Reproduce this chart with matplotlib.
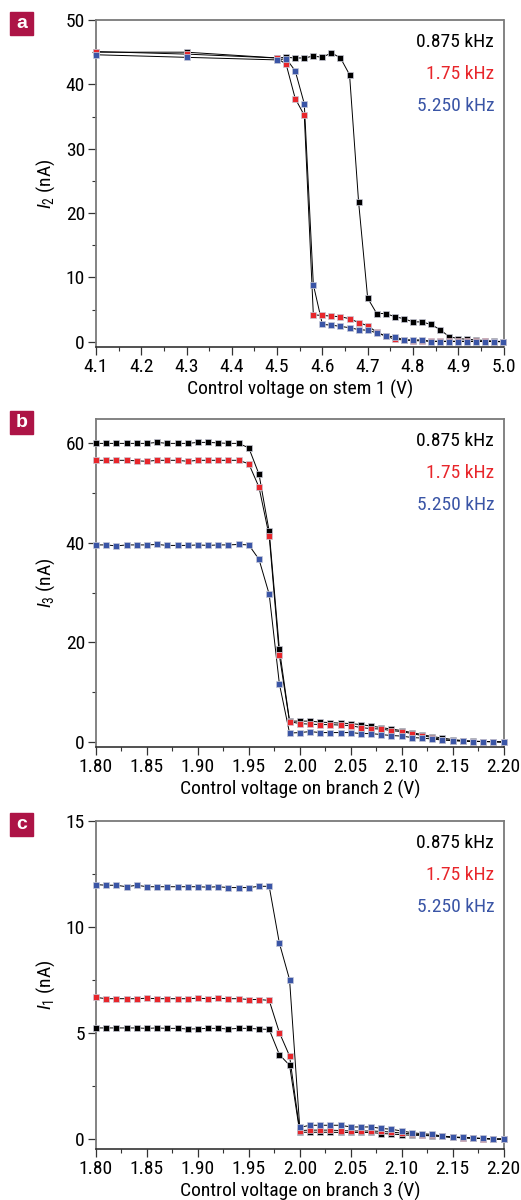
import matplotlib
matplotlib.use("Agg")
import matplotlib.pyplot as plt
from matplotlib import font_manager
from matplotlib.ticker import MultipleLocator, FormatStrFormatter
from matplotlib.patches import Rectangle

# pick a condensed sans if one is installed, else a narrow-ish sans
names = {f.name: f for f in font_manager.fontManager.ttflist}
cond = [f.name for f in font_manager.fontManager.ttflist
        if ("Narrow" in f.name or "Condensed" in f.name) and "Mono" not in f.name
        and "Serif" not in f.name]
pref = ["Liberation Sans Narrow", "DejaVu Sans Condensed", "Roboto Condensed",
        "Open Sans Condensed"]
FAM = None
for p in pref:
    if p in names:
        FAM = p
        break
if FAM is None and cond:
    FAM = sorted(cond)[0]
CONDENSED = FAM is not None
if FAM is None:
    for p in ["Liberation Sans", "Roboto", "Arial"]:
        if p in names:
            FAM = p
            break
if FAM is None:
    FAM = "DejaVu Sans"

plt.rcParams["font.family"] = [FAM, "DejaVu Sans"]
plt.rcParams["mathtext.fontset"] = "custom"
plt.rcParams["mathtext.rm"] = FAM
plt.rcParams["mathtext.it"] = FAM + ":italic"
FS = 14 if CONDENSED else 12.3

# ---------------- data ----------------
series_labels = ["0.875 kHz", "1.75 kHz", "5.250 kHz"]
series_colors = ["#000000", "#e8262b", "#3a55a6"]

# panel a
v_a = [4.10, 4.30, 4.50, 4.52, 4.54, 4.56, 4.58, 4.60, 4.62, 4.64, 4.66, 4.68, 4.70,
       4.72, 4.74, 4.76, 4.78, 4.80, 4.82, 4.84, 4.86, 4.88, 4.90, 4.92, 4.94, 4.96,
       4.98, 5.00]
i2_black = [45.0, 45.0, 44.1, 44.2, 44.1, 44.1, 44.4, 44.2, 44.9, 44.1, 41.5, 21.7, 6.8,
            4.4, 4.4, 3.9, 3.6, 3.1, 3.1, 2.7, 1.9, 0.8, 0.5, 0.4, 0.3, 0.2, 0.1, 0.05]
i2_red = [45.1, 44.7, 44.1, 43.1, 37.8, 35.2, 4.2, 4.1, 4.0, 3.9, 3.6, 3.0, 2.5,
          1.5, 0.9, 0.4, 0.3, 0.2, 0.15, 0.1, 0.1, 0.1, 0.1, 0.1, 0.1, 0.1, 0.05, 0.0]
i2_blue = [44.6, 44.2, 43.8, 44.0, 42.1, 37.0, 8.9, 2.7, 2.6, 2.4, 2.2, 1.9, 1.8,
           1.4, 0.9, 0.8, 0.3, 0.3, 0.3, 0.05, 0.05, 0.05, 0.05, 0.05, 0.05, 0.05, 0.05, 0.05]

# panels b and c share the same voltage grid
v_bc = [1.80, 1.81, 1.82, 1.83, 1.84, 1.85, 1.86, 1.87, 1.88, 1.89, 1.90, 1.91, 1.92,
        1.93, 1.94, 1.95, 1.96, 1.97, 1.98, 1.99, 2.00, 2.01, 2.02, 2.03, 2.04, 2.05,
        2.06, 2.07, 2.08, 2.09, 2.10, 2.11, 2.12, 2.13, 2.14, 2.15, 2.16, 2.17, 2.18,
        2.19, 2.20]

i3_black = [60.0, 60.0, 60.0, 60.0, 60.0, 60.0, 60.2, 60.0, 60.0, 60.0, 60.2, 60.2, 60.1,
            60.0, 60.0, 59.1, 53.8, 42.3, 18.7, 4.2, 4.2, 4.2, 4.0, 3.9, 3.8, 3.7,
            3.5, 3.2, 2.9, 2.6, 2.3, 1.9, 1.5, 1.1, 0.8, 0.5, 0.3, 0.2, 0.1, 0.1, 0.0]
i3_red = [56.6, 56.6, 56.6, 56.6, 56.5, 56.4, 56.6, 56.6, 56.6, 56.4, 56.6, 56.6, 56.6,
          56.6, 56.6, 55.9, 51.2, 41.4, 17.4, 4.1, 3.7, 3.6, 3.5, 3.5, 3.4, 3.3,
          2.9, 2.7, 2.6, 2.3, 2.1, 1.7, 1.3, 0.9, 0.5, 0.3, 0.2, 0.1, 0.1, 0.05, 0.0]
i3_blue = [39.6, 39.6, 39.4, 39.6, 39.6, 39.6, 39.7, 39.5, 39.5, 39.5, 39.6, 39.5, 39.6,
           39.6, 39.7, 39.6, 36.7, 29.7, 11.7, 1.8, 1.9, 2.1, 1.9, 1.9, 1.9, 1.9,
           1.7, 1.7, 1.5, 1.3, 1.2, 0.9, 0.8, 0.6, 0.4, 0.3, 0.2, 0.1, 0.1, 0.05, 0.0]

i1_black = [5.24, 5.24, 5.24, 5.24, 5.24, 5.22, 5.24, 5.22, 5.22, 5.19, 5.20, 5.22, 5.22,
            5.19, 5.22, 5.22, 5.19, 5.17, 3.98, 3.48, 0.32, 0.32, 0.32, 0.32, 0.31, 0.31,
            0.31, 0.31, 0.26, 0.24, 0.20, 0.18, 0.17, 0.15, 0.12, 0.08, 0.06, 0.04, 0.02,
            0.0, 0.0]
i1_red = [6.68, 6.62, 6.62, 6.62, 6.62, 6.64, 6.62, 6.62, 6.62, 6.62, 6.64, 6.62, 6.64,
          6.62, 6.62, 6.58, 6.58, 6.54, 5.02, 3.92, 0.40, 0.42, 0.42, 0.42, 0.40, 0.38,
          0.38, 0.38, 0.36, 0.33, 0.28, 0.24, 0.20, 0.17, 0.12, 0.08, 0.06, 0.04, 0.02,
          0.0, 0.0]
i1_blue = [12.0, 11.97, 11.97, 11.90, 11.97, 11.90, 11.90, 11.90, 11.90, 11.90, 11.90, 11.88,
           11.90, 11.86, 11.86, 11.86, 11.92, 11.92, 9.24, 7.52, 0.55, 0.65, 0.65, 0.65,
           0.65, 0.57, 0.57, 0.57, 0.50, 0.46, 0.38, 0.30, 0.25, 0.22, 0.14, 0.10, 0.08,
           0.05, 0.03, 0.0, 0.0]

panel_letters = ["a", "b", "c"]
ylabels = [r"$I_2$ (nA)", r"$I_3$ (nA)", r"$I_1$ (nA)"]
xlabels = ["Control voltage on stem 1 (V)", "Control voltage on branch 2 (V)",
           "Control voltage on branch 3 (V)"]

# ---------------- figure ----------------
W, H = 521, 1200
fig = plt.figure(figsize=(W / 100, H / 100), dpi=100)

def px_axes(left, top, right, bottom):
    return fig.add_axes([left / W, 1 - bottom / H, (right - left) / W, (bottom - top) / H])

boxes = [(20, 347), (419, 747), (821, 1149)]
panels = [
    (v_a, [i2_black, i2_red, i2_blue], (4.1, 5.0), (-0.8, 50), 0.1, 0.05, 10, 5, "%.1f"),
    (v_bc, [i3_black, i3_red, i3_blue], (1.80, 2.20), (-1.0, 64.9), 0.05, 0.025, 20, 10, "%.2f"),
    (v_bc, [i1_black, i1_red, i1_blue], (1.80, 2.20), (-0.47, 15), 0.05, 0.025, 5, 2.5, "%.2f"),
]

spine_gray = "#7a7a7a"
for k, (xv, ys, xlim, ylim, xmaj, xmin, ymaj, ymin, xfmt) in enumerate(panels):
    top, bottom = boxes[k]
    ax = px_axes(96, top, 503.5, bottom)
    for y in ys:
        ax.plot(xv, y, color="black", lw=0.7, zorder=2, clip_on=False)
    for y, c in zip(ys, series_colors):
        ax.plot(xv, y, ls="none", marker="s", ms=5.0, mfc=c, mec="#c9cbd8", mew=0.5,
                zorder=3, clip_on=False)
    ax.set_xlim(*xlim)
    ax.set_ylim(*ylim)
    ax.xaxis.set_major_locator(MultipleLocator(xmaj))
    ax.xaxis.set_minor_locator(MultipleLocator(xmin))
    ax.xaxis.set_major_formatter(FormatStrFormatter(xfmt))
    ax.yaxis.set_major_locator(MultipleLocator(ymaj))
    ax.yaxis.set_minor_locator(MultipleLocator(ymin))
    ax.yaxis.set_major_formatter(FormatStrFormatter("%d"))
    ax.tick_params(which="major", direction="out", length=6, width=0.9, labelsize=FS,
                   color="#333333", pad=2)
    ax.tick_params(which="minor", direction="out", length=3, width=0.8, color="#333333")
    ax.tick_params(axis="y", which="both", left=True, right=False)
    ax.tick_params(axis="x", which="both", bottom=True, top=False)
    for s in ["left", "top", "right"]:
        ax.spines[s].set_color(spine_gray)
        ax.spines[s].set_linewidth(1.3)
    ax.spines["bottom"].set_color("#222222")
    ax.spines["bottom"].set_linewidth(1.1)
    ax.set_xlabel(xlabels[k], fontsize=FS, labelpad=3)
    ax.set_ylabel(ylabels[k], fontsize=FS)
    ax.yaxis.set_label_coords((57 - 96) / 407.5, 0.5)
    for j, (lab, c) in enumerate(zip(series_labels, series_colors)):
        ax.text(0.977, 0.933 - j * 0.098, lab, color=c, fontsize=FS,
                ha="right", va="center", transform=ax.transAxes)
    # panel letter box
    fig.patches.append(Rectangle((10 / W, 1 - (top - 8 + 23) / H), 23 / W, 23 / H,
                                 transform=fig.transFigure, color="#ad1446",
                                 zorder=5))
    fig.text(21.5 / W, 1 - (top - 8 + 11.5) / H, panel_letters[k], color="white",
             fontsize=14, fontweight="bold", ha="center", va="center",
             family=["Liberation Sans", "DejaVu Sans"], zorder=6)

fig.savefig("out.png", dpi=100)
